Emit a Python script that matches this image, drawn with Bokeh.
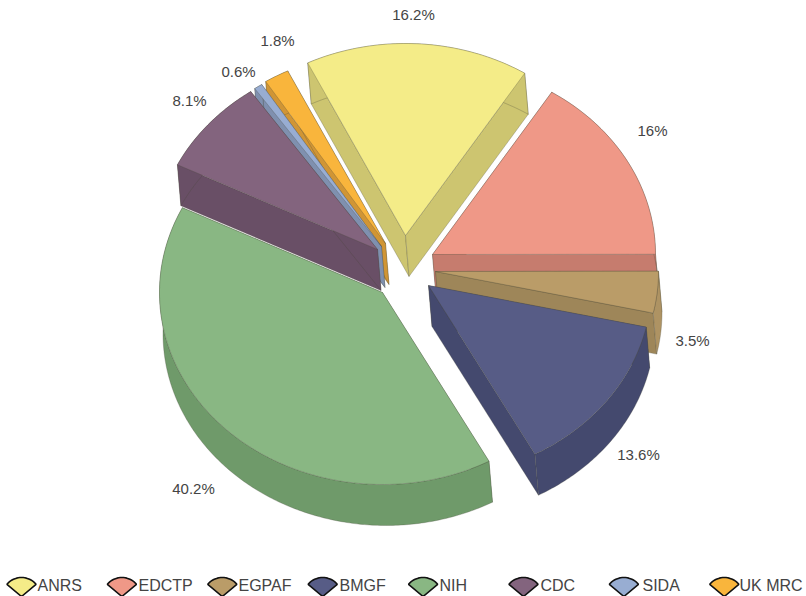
import math
from bokeh.embed import file_html
from bokeh.models import ColumnDataSource, Range1d
from bokeh.plotting import figure
from bokeh.resources import INLINE
from bokeh.core.properties import value

# Funding share per organisation, in percent
funders = ["ANRS", "EDCTP", "EGPAF", "BMGF", "NIH", "CDC", "SIDA", "UK MRC"]
shares = [16.2, 16, 3.5, 13.6, 40.2, 8.1, 0.6, 1.8]
top_colors = ["#F4EC88", "#EF9887", "#BA9C68", "#575C86", "#89B783", "#83647E", "#98ADD2", "#F9B53C"]
wall_colors = ["#CDC570", "#C67C6E", "#9E8659", "#44496E", "#6F9A6A", "#694F66", "#7F90AF", "#D09535"]
outer_colors = ["#CDC570", "#C67C6E", "#AE9363", "#44496E", "#6F9A6A", "#694F66", "#7F90AF", "#D09535"]

# Layout of the extruded pie, in page pixels
CX, CY = 399, 270
RX, RY = 223, 192
DEPTH_X, DEPTH_Y = 3.5, 41
START_DEG = -26
PULL_X = [6, 33, 36, 29, -17, -22, -18, -14]
PULL_Y = [-35, -16, 1, 15, 22, -21, -24, -27]
PAINT_ORDER = [7, 6, 5, 0, 1, 2, 4, 3]
LABEL_X = [413, 652, 692, 638, 193, 189, 238, 277]
LABEL_Y = [14, 130, 340, 454, 488, 100, 71, 40]
LEGEND_X0, LEGEND_STEP = 21, 100.4
LEGEND_TEXT_X = [37, 138, 238, 339, 439, 540, 642, 739]

p = figure(width=806, height=596, output_backend="svg", toolbar_location=None,
           x_range=Range1d(0, 806), y_range=Range1d(596, 0), min_border=0,
           background_fill_color="white", border_fill_color="white")
p.axis.visible = False
p.grid.visible = False
p.outline_line_color = None


def arc_points(ax, ay, a0, a1):
    steps = max(4, int(abs(a1 - a0) * 1.5))
    pts = []
    for k in range(steps + 1):
        t = math.radians(a0 + (a1 - a0) * k / steps)
        pts.append((ax + RX * math.sin(t), ay - RY * math.cos(t)))
    return pts


def shifted(pts):
    return [(x + DEPTH_X, y + DEPTH_Y) for x, y in pts]


def add_face(store, pts, color):
    store["xs"].append([q[0] for q in pts])
    store["ys"].append([q[1] for q in pts])
    store["fill"].append(color)


# Angular span of every slice, running clockwise from the start angle
spans = []
angle = START_DEG
total = sum(shares)
for s in shares:
    sweep = 360 * s / total
    spans.append((angle, angle + sweep))
    angle += sweep

faces = {"xs": [], "ys": [], "fill": []}
for i in PAINT_ORDER:
    a0, a1 = spans[i]
    ax, ay = CX + PULL_X[i], CY + PULL_Y[i]
    arc = arc_points(ax, ay, a0, a1)
    apex = (ax, ay)
    add_face(faces, [apex, arc[0]] + shifted([arc[0], apex]), wall_colors[i])
    add_face(faces, [apex, arc[-1]] + shifted([arc[-1], apex]), wall_colors[i])
    add_face(faces, arc + shifted(arc)[::-1], outer_colors[i])
    add_face(faces, [apex] + arc, top_colors[i])

p.patches("xs", "ys", source=ColumnDataSource(faces), fill_color="fill",
          line_color="#4a4a3a", line_alpha=0.35, line_width=0.8)

# Percentage labels beside the slices
p.text(x=LABEL_X, y=LABEL_Y, text=[f"{s:g}%" for s in shares],
       text_font=value("Liberation Sans"), text_font_size="15px", text_color="#444444",
       text_align="center", text_baseline="middle")

# Legend row: a small fan swatch followed by the organisation name
swatch = {"xs": [], "ys": [], "fill": []}
for i in range(len(funders)):
    c = LEGEND_X0 + LEGEND_STEP * i
    pts = [(c, 596)]
    for deg in range(-50, 51, 5):
        t = math.radians(deg)
        pts.append((c + 19 * math.sin(t), 596 - 19 * math.cos(t)))
    add_face(swatch, pts, top_colors[i])
p.patches("xs", "ys", source=ColumnDataSource(swatch), fill_color="fill",
          line_color="#111111", line_width=1.6)
p.text(x=LEGEND_TEXT_X, y=[585] * len(funders), text=funders,
       text_font=value("Liberation Sans"), text_font_size="16px", text_color="#444444",
       text_align="left", text_baseline="middle")

open("out.html", "w").write(file_html(p, INLINE))
